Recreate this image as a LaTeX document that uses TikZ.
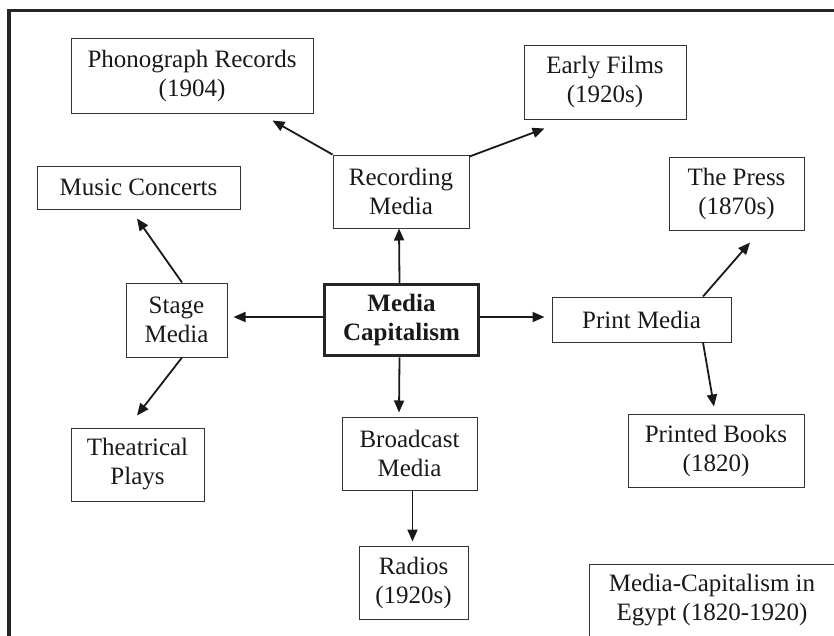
\documentclass[tikz,border=0pt]{standalone}
\usepackage{fontspec}
\setmainfont{Liberation Serif}
\usetikzlibrary{arrows.meta,calc}
\begin{document}
\begin{tikzpicture}[x=1pt,y=-1pt,
  box/.style={draw=black!80,line width=1pt,inner sep=0pt,align=center,
    font=\fontsize{25}{29}\selectfont,text=black!90},
  mainbox/.style={box,draw=black!85,line width=3.5pt,font=\fontsize{25}{29}\selectfont\bfseries},
  arr/.style={draw=black!90,line width=1.8pt,-{Triangle[length=12pt,width=10pt]}}]
\useasboundingbox (0,0) rectangle (834,635);
% outer frame
\draw[line width=3.6pt,black!85] (9,640) -- (9,10.5) -- (840,10.5);
% nodes
\node[box,minimum width=242,minimum height=75] (phono) at (192,75.5) {Phonograph Records\\(1904)};
\node[box,minimum width=162,minimum height=74] (films) at (605,82) {Early Films\\(1920s)};
\node[box,minimum width=136,minimum height=73] (rec) at (401,191.5) {Recording\\Media};
\node[box,minimum width=203,minimum height=43] (music) at (138.5,187.5) {Music Concerts};
\node[box,minimum width=135,minimum height=73] (press) at (736.5,193.5) {The Press\\(1870s)};
\node[box,minimum width=101,minimum height=74] (stage) at (176.5,320) {Stage\\Media};
\node[mainbox,minimum width=154,minimum height=71] (mc) at (401.5,320) {Media\\Capitalism};
\node[box,minimum width=179,minimum height=45] (print) at (641.5,319.5) {Print Media};
\node[box,minimum width=133,minimum height=73] (theat) at (137.5,464.5) {Theatrical\\Plays};
\node[box,minimum width=135,minimum height=73] (broad) at (409.5,453.5) {Broadcast\\Media};
\node[box,minimum width=176,minimum height=73] (books) at (716,450.5) {Printed Books\\(1820)};
\node[box,minimum width=109,minimum height=73] (radios) at (413.5,582.5) {Radios\\(1920s)};
\node[box,minimum width=246,minimum height=73] (egypt) at (712,600.5) {Media-Capitalism in\\Egypt (1820-1920)};
% connectors
\draw[arr] ($(mc.north)+(-2,0)$) -- ($(rec.south)+(-2,0)$);
\draw[arr] ($(mc.west)+(0,-3)$) -- ($(stage.east)+(6,-3)$);
\draw[arr] ($(mc.east)+(0,-3)$) -- ($(print.west)+(-7,-2.5)$);
\draw[arr] ($(mc.south)+(-2,0)$) -- ($(broad.north)+(-10.5,-4)$);
\draw[arr] (rec.north west) -- ($(phono.south east)+(-41,7)$);
\draw[arr] ($(rec.north east)+(0,2)$) -- ($(films.south west)+(21,9)$);
\draw[arr] ($(stage.north)+(5.5,0)$) -- ($(music.south)+(-1.5,9)$);
\draw[arr] ($(stage.south)+(5.5,0)$) -- ($(theat.north)+(-0.5,-12)$);
\draw[arr] ($(print.north)+(61.5,0)$) -- ($(press.south)+(13.5,12)$);
\draw[arr] ($(print.south)+(61.5,0)$) -- ($(books.north)+(-2,-7)$);
\draw[arr] ($(broad.south)+(3,0)$) -- ($(radios.north)+(-1,-4)$);
\end{tikzpicture}
\end{document}
